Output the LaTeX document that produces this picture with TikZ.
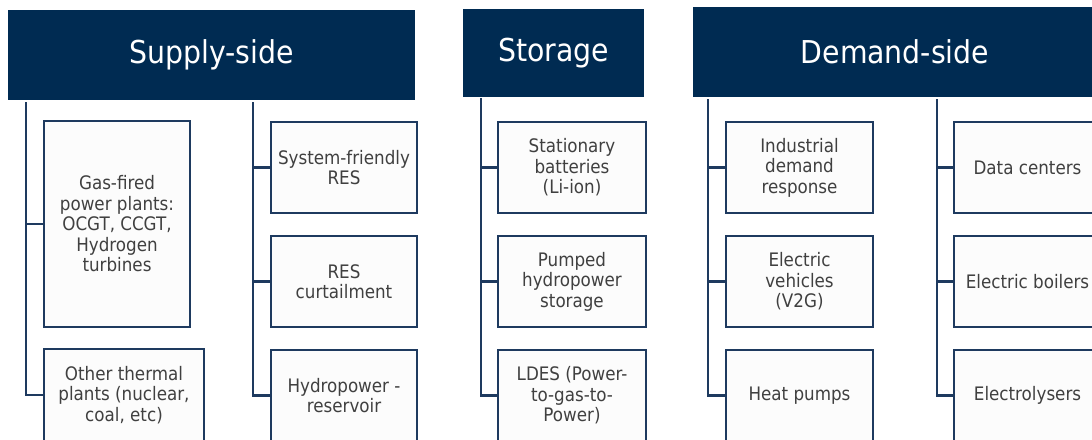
\documentclass[tikz,border=0pt]{standalone}
\usepackage{fontspec}
\setmainfont{DejaVu Sans Condensed}
\usetikzlibrary{calc}
\definecolor{hdrblue}{RGB}{0,43,82}
\definecolor{lineblue}{RGB}{30,58,95}
\definecolor{boxfill}{RGB}{252,252,252}
\definecolor{txtgray}{RGB}{64,64,64}
\begin{document}
\begin{tikzpicture}[x=1pt,y=-1pt,
  hdr/.style={fill=hdrblue,draw=none,text=white,font=\fontsize{31.5}{36}\selectfont,inner sep=0pt},
  box/.style={draw=lineblue,line width=2.2pt,fill=boxfill,text=txtgray,font=\fontsize{18.6}{20.5}\selectfont,align=center,inner sep=0pt},
  conn/.style={draw=lineblue,line width=2.4pt}]
\clip (0,0) rectangle (1092,439);
\fill[white] (0,0) rectangle (1092,439);
% headers
\node[hdr,minimum width=407pt,minimum height=90pt] (sup) at (211.5,55) {Supply-side};
\node[hdr,minimum width=181pt,minimum height=88pt] (sto) at (553.5,53) {Storage};
\node[hdr,minimum width=404pt,minimum height=90pt] (dem) at (895,52) {Demand-side};
% trunk tops
\coordinate (t1) at (26,102);
\coordinate (t2) at (253,102);
\coordinate (t3) at (481,98);
\coordinate (t4) at (708,99);
\coordinate (t5) at (937,99);
% supply boxes
\node[box,minimum width=146pt,minimum height=206pt] (gas) at (117,224) {Gas-fired\\power plants:\\OCGT, CCGT,\\Hydrogen\\turbines};
\node[box,minimum width=160pt,minimum height=92pt] (oth) at (124,395) {Other thermal\\plants (nuclear,\\coal, etc)};
\node[box,minimum width=146pt,minimum height=91pt] (sfr) at (344,167.5) {System-friendly\\RES};
\node[box,minimum width=146pt,minimum height=91pt] (cur) at (344,281.5) {RES\\curtailment};
\node[box,minimum width=146pt,minimum height=91pt] (hyd) at (344,395.5) {Hydropower -\\reservoir};
% storage boxes
\node[box,minimum width=148pt,minimum height=91pt] (sta) at (572,167.5) {Stationary\\batteries\\(Li-ion)};
\node[box,minimum width=148pt,minimum height=91pt] (pum) at (572,281.5) {Pumped\\hydropower\\storage};
\node[box,minimum width=148pt,minimum height=91pt] (lde) at (572,395.5) {LDES (Power-\\to-gas-to-\\Power)};
% demand boxes
\node[box,minimum width=147pt,minimum height=91pt] (ind) at (799.5,167.5) {Industrial\\demand\\response};
\node[box,minimum width=147pt,minimum height=91pt] (ev) at (799.5,281.5) {Electric\\vehicles\\(V2G)};
\node[box,minimum width=147pt,minimum height=91pt] (hp) at (799.5,395.5) {Heat pumps};
\node[box,minimum width=147pt,minimum height=91pt] (dc) at (1027.5,167.5) {Data centers};
\node[box,minimum width=147pt,minimum height=91pt] (eb) at (1027.5,281.5) {Electric boilers};
\node[box,minimum width=147pt,minimum height=91pt] (el) at (1027.5,395.5) {Electrolysers};
% connectors
\draw[conn] (t1) |- (oth.west);
\draw[conn] (gas.west) -- (gas.west -| t1);
\draw[conn] (t2) |- (hyd.west);
\draw[conn] (sfr.west) -- (sfr.west -| t2);
\draw[conn] (cur.west) -- (cur.west -| t2);
\draw[conn] (t3) |- (lde.west);
\draw[conn] (sta.west) -- (sta.west -| t3);
\draw[conn] (pum.west) -- (pum.west -| t3);
\draw[conn] (t4) |- (hp.west);
\draw[conn] (ind.west) -- (ind.west -| t4);
\draw[conn] (ev.west) -- (ev.west -| t4);
\draw[conn] (t5) |- (el.west);
\draw[conn] (dc.west) -- (dc.west -| t5);
\draw[conn] (eb.west) -- (eb.west -| t5);
\end{tikzpicture}
\end{document}
